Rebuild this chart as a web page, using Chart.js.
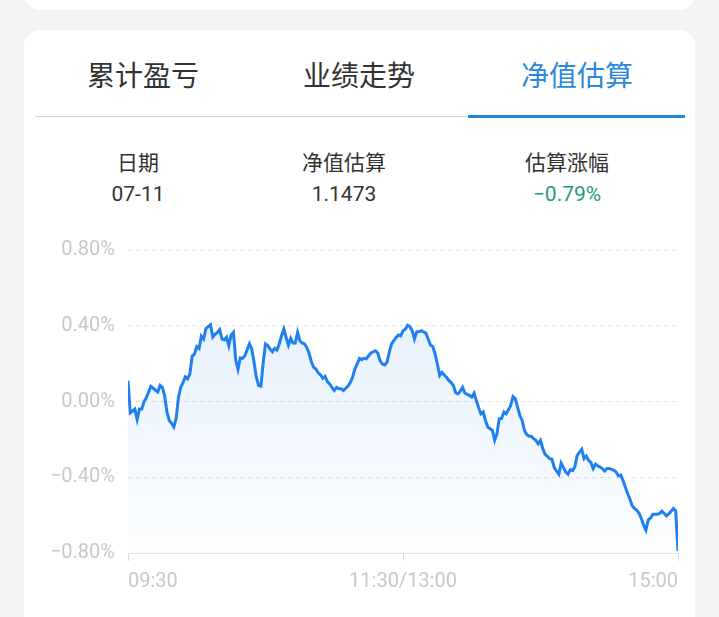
<!DOCTYPE html>
<html>
<head>
<meta charset="utf-8">
<script src="https://cdn.jsdelivr.net/npm/chart.js@4"></script>
<style>
  body { margin: 0; width: 719px; height: 617px; overflow: hidden; background: #f4f4f4; position: relative;
         font-family: Roboto, "Noto Sans CJK SC", sans-serif; }
  .card { position: absolute; left: 24px; width: 671px; background: #fff; border-radius: 16px; }
  .tab { position: absolute; width: 200px; text-align: center; top: 54px; line-height: 40px;
         font-size: 28px; color: #333; font-family: "Noto Sans CJK SC", sans-serif; }
  .tab.active { color: #2a89d8; }
  .hd { position: absolute; width: 160px; text-align: center; font-size: 21px; color: #333; line-height: 28px; }
  .hd.label { top: 147px; font-family: "Noto Sans CJK SC", sans-serif; }
  .hd.val { top: 180px; font-size: 21px; }
</style>
</head>
<body>
<div class="card" style="top:-30px;height:40px;"></div>
<div class="card" style="top:30px;height:620px;"></div>

<div class="tab" style="left:43px;">累计盈亏</div>
<div class="tab" style="left:259px;">业绩走势</div>
<div class="tab active" style="left:477px;">净值估算</div>
<div style="position:absolute;left:35px;top:116px;width:433px;height:1px;background:#d2d2d2;"></div>
<div style="position:absolute;left:468px;top:115px;width:217px;height:3px;background:#1f87e0;"></div>

<div class="hd label" style="left:58px;">日期</div>
<div class="hd label" style="left:264px;">净值估算</div>
<div class="hd label" style="left:487px;">估算涨幅</div>
<div class="hd val" style="left:58px;">07-11</div>
<div class="hd val" style="left:264px;">1.1473</div>
<div class="hd val" style="left:487px;color:#1f9e72;">−0.79%</div>

<canvas id="myChart" width="671" height="385" style="position:absolute;left:24px;top:225px;"></canvas>

<script>
// minutes after 09:30 (11:30/13:00 = 120, 15:00 = 240)
const minutes = [
  0, 1, 2, 3, 4, 5, 6, 7, 8, 9, 10, 11, 13, 14, 15, 16, 17, 18, 19, 20,
  21, 22, 23, 24, 25, 26, 27, 28, 29, 30, 31, 32, 33, 34, 35, 36, 37, 38, 39, 40,
  41, 42, 43, 44, 45, 46, 47, 48, 49, 50, 51, 53, 54, 55, 56, 57, 58, 59, 60, 61,
  62, 63, 64, 65, 66, 67, 68, 69, 70, 71, 72, 73, 74, 75, 76, 77, 78, 79, 80, 81,
  82, 83, 84, 85, 86, 87, 88, 89, 90, 91, 92, 93, 94, 96, 97, 98, 99, 100, 101, 102,
  103, 104, 105, 106, 108, 109, 110, 111, 112, 113, 114, 115, 116, 117, 118, 119, 120, 121, 122, 123,
  124, 125, 126, 127, 128, 130, 131, 132, 133, 134, 135, 136, 137, 138, 139, 140, 141, 142, 143, 144,
  145, 146, 147, 148, 149, 150, 151, 152, 153, 154, 155, 156, 157, 158, 159, 160, 161, 162, 163, 164,
  165, 166, 167, 168, 169, 170, 171, 172, 173, 174, 175, 176, 177, 178, 179, 180, 181, 182, 183, 184,
  185, 186, 187, 188, 189, 190, 191, 192, 193, 194, 195, 196, 197, 198, 199, 200, 201, 202, 203, 204,
  205, 206, 207, 208, 209, 210, 211, 212, 213, 214, 215, 216, 217, 218, 219, 220, 221, 222, 223, 224,
  225, 226, 227, 228, 229, 230, 231, 232, 233, 234, 235, 236, 237, 238, 239, 240
];

// estimated change, %
const values = [
  0.11, -0.06, -0.05, -0.04, -0.095, -0.04, -0.04, 0.0, 0.02, 0.05, 0.08, 0.07, 0.05, 0.085, 0.075, 0.03, -0.055, -0.10, -0.115, -0.135,
  -0.09, 0.02, 0.075, 0.10, 0.13, 0.12, 0.145, 0.24, 0.25, 0.29, 0.28, 0.345, 0.33, 0.385, 0.395, 0.405, 0.34, 0.355, 0.365, 0.38,
  0.33, 0.325, 0.34, 0.295, 0.35, 0.365, 0.22, 0.17, 0.23, 0.228, 0.242, 0.305, 0.277, 0.207, 0.128, 0.084, 0.081, 0.207, 0.304, 0.295,
  0.277, 0.263, 0.281, 0.272, 0.304, 0.347, 0.382, 0.338, 0.298, 0.333, 0.309, 0.309, 0.365, 0.321, 0.309, 0.304, 0.286, 0.256, 0.211, 0.181,
  0.172, 0.151, 0.14, 0.123, 0.133, 0.105, 0.093, 0.075, 0.058, 0.075, 0.067, 0.067, 0.058, 0.081, 0.10, 0.128, 0.172, 0.198, 0.228, 0.221,
  0.228, 0.225, 0.242, 0.256, 0.268, 0.256, 0.216, 0.198, 0.193, 0.207, 0.26, 0.304, 0.321, 0.338, 0.351, 0.347, 0.374, 0.382, 0.403, 0.396,
  0.374, 0.33, 0.368, 0.368, 0.374, 0.361, 0.33, 0.298, 0.291, 0.251, 0.198, 0.137, 0.154, 0.14, 0.128, 0.111, 0.10, 0.084, 0.046, 0.04,
  0.055, 0.075, 0.045, 0.037, 0.032, 0.023, 0.044, 0.005, -0.033, -0.065, -0.056, -0.10, -0.135, -0.144, -0.153, -0.205, -0.17, -0.091, -0.09, -0.056,
  -0.065, -0.044, -0.021, 0.026, 0.014, -0.03, -0.074, -0.10, -0.153, -0.174, -0.184, -0.184, -0.196, -0.205, -0.223, -0.205, -0.249, -0.279, -0.289, -0.302,
  -0.305, -0.349, -0.367, -0.384, -0.325, -0.349, -0.372, -0.384, -0.36, -0.365, -0.345, -0.285, -0.268, -0.253, -0.302, -0.288, -0.311, -0.323, -0.354, -0.33,
  -0.34, -0.346, -0.354, -0.367, -0.354, -0.354, -0.358, -0.363, -0.372, -0.393, -0.389, -0.416, -0.451, -0.486, -0.515, -0.55, -0.565, -0.574, -0.59, -0.618,
  -0.653, -0.679, -0.626, -0.615, -0.596, -0.596, -0.596, -0.591, -0.579, -0.591, -0.604, -0.593, -0.579, -0.565, -0.578, -0.79
];

const xTickMinutes = [0, 120, 240];
const xTickLabels = ["09:30", "11:30/13:00", "15:00"];
const yTicks = [-0.8, -0.4, 0, 0.4, 0.8];

const ctx = document.getElementById("myChart");

new Chart(ctx, {
  type: "line",
  data: {
    datasets: [
      {
        data: minutes.map((m, i) => ({ x: m, y: values[i] })),
        borderColor: "#2080f0",
        borderWidth: 3,
        pointRadius: 0,
        tension: 0,
        fill: "start",
        backgroundColor: function (context) {
          const chart = context.chart;
          const area = chart.chartArea;
          if (!area) return "rgba(32,128,240,0.08)";
          const g = chart.ctx.createLinearGradient(0, area.top, 0, area.bottom);
          g.addColorStop(0, "rgba(32,128,240,0.14)");
          g.addColorStop(1, "rgba(32,128,240,0.01)");
          return g;
        },
      },
    ],
  },
  options: {
    responsive: false,
    animation: false,
    devicePixelRatio: 1,
    layout: { padding: { top: 24, right: 17, left: 0, bottom: 0 } },
    plugins: {
      legend: { display: false },
      tooltip: { enabled: false },
    },
    scales: {
      x: {
        type: "linear",
        min: 0,
        max: 240,
        afterBuildTicks: (scale) => {
          scale.ticks = xTickMinutes.map((v) => ({ value: v }));
        },
        afterFit: (scale) => {
          scale.height = 57;
        },
        ticks: {
          align: "inner",
          padding: 9,
          color: "#c8c8c8",
          font: { family: "Roboto", size: 20 },
          maxRotation: 0,
          callback: (value) => xTickLabels[xTickMinutes.indexOf(value)],
        },
        grid: {
          drawOnChartArea: false,
          tickLength: 8,
          color: "#dcdcdc",
        },
        border: { color: "#e2e2e2", width: 1 },
      },
      y: {
        min: -0.8,
        max: 0.8,
        afterBuildTicks: (scale) => {
          scale.ticks = yTicks.map((v) => ({ value: v }));
        },
        afterFit: (scale) => {
          scale.width = 104;
        },
        ticks: {
          padding: 13,
          color: "#c8c8c8",
          font: { family: "Roboto", size: 20 },
          callback: (value) => value.toFixed(2).replace("-", "−") + "%",
        },
        grid: {
          drawTicks: false,
          color: "#e4e4e4",
        },
        border: { display: false, dash: [4, 4] },
      },
    },
  },
});
</script>
</body>
</html>
